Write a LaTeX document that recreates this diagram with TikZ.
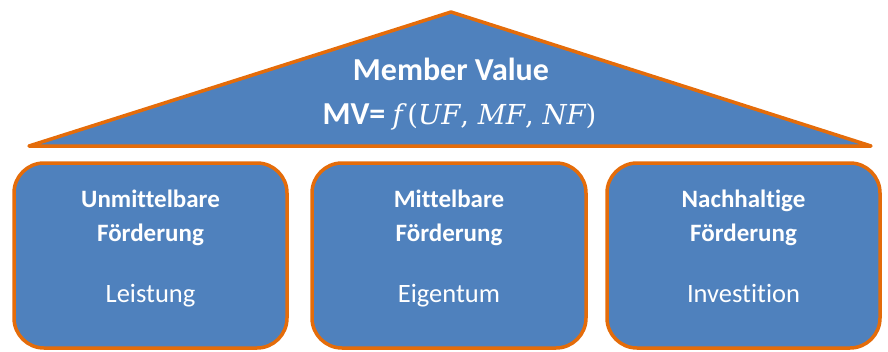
\documentclass[tikz,border=0pt]{standalone}
\usepackage{fontspec}
\setmainfont{Carlito}[Ligatures=NoCommon]
\newfontfamily\formulafont{DejaVu Serif}
\newcommand*\fvar[1]{{\itshape #1}}
\definecolor{roofblue}{HTML}{4F81BD}
\definecolor{rimorange}{HTML}{E46C0A}
\begin{document}
\begin{tikzpicture}[x=1pt,y=-1pt,
  part/.style={draw=rimorange, fill=roofblue, line width=3.5pt, line join=round},
  pillar/.style={part, rounded corners=30pt},
  headtext/.style={text=white, font=\fontsize{25}{34}\selectfont\bfseries, align=center, anchor=base},
  subtext/.style={text=white, font=\fontsize{26.5}{32}\selectfont, anchor=base},
  rooftext/.style={text=white, font=\fontsize{32}{36}\selectfont\bfseries}]
  \useasboundingbox (0,0) rectangle (888,351);

  % roof
  \coordinate (apex) at (451,12);
  \coordinate (left) at (29,146);
  \coordinate (right) at (871,146);
  \draw[part] (apex) -- (right) -- (left) -- cycle;
  \node[rooftext] (title) at (451,69) {Member Value};
  \node[rooftext, anchor=base west] (formula) at (319,124)
    {MV= {\formulafont\mdseries\fontsize{27.5}{30}\selectfont\fvar{f}\,(\fvar{UF}, \fvar{MF}, \fvar{NF})}};

  % pillars
  \draw[pillar] (14,163) rectangle (287,348);
  \draw[pillar] (312,163) rectangle (586,348);
  \draw[pillar] (607,163) rectangle (880,348);

  % the base anchor of a two-line node sits on its last line
  \node[headtext] (h1) at (150.5,241) {Unmittelbare\\Förderung};
  \node[headtext] (h2) at (449,241) {Mittelbare\\Förderung};
  \node[headtext] (h3) at (743.5,241) {Nachhaltige\\Förderung};

  \node[subtext] (s1) at (150.5,302) {Leistung};
  \node[subtext] (s2) at (449,302) {Eigentum};
  \node[subtext] (s3) at (743.5,302) {Investition};
\end{tikzpicture}
\end{document}
